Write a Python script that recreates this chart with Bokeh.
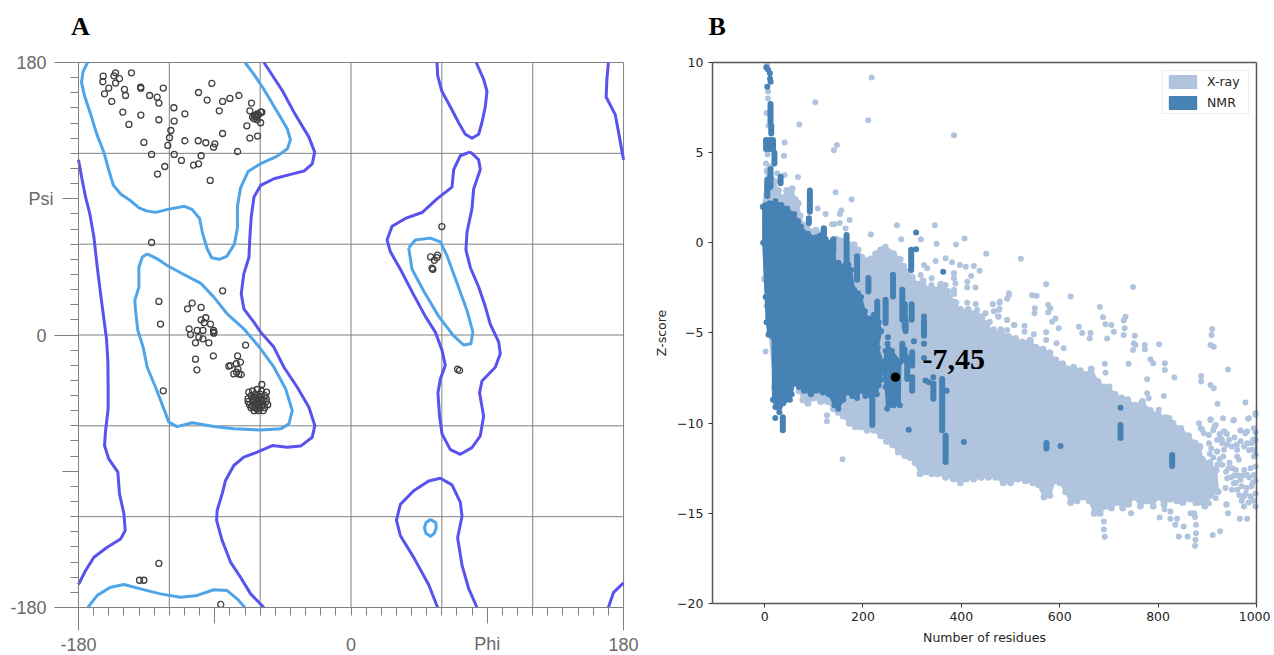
from bokeh.embed import file_html
from bokeh.resources import INLINE
from bokeh.layouts import row
from bokeh.models import (ColumnDataSource, FixedTicker, Label, Legend, LegendItem,
                          LinearAxis, Range1d)
from bokeh.plotting import figure

# ---------- Panel A : Ramachandran plot (phi, psi in degrees) ----------
core_beta = [(-174,180),(-177,174),(-178,167),(-176,158),(-172,146),(-168,133),(-163,120),(-160,109),(-157,99),(-152,93),(-146,89),(-140,84),(-135,82),(-129,81),(-121,83),(-110,85),(-105,83),(-100,77),(-98,67),(-95,57),(-92,51),(-87,50),(-82,52),(-77,60),(-75,71),(-75,85),(-73,97),(-68,108),(-60,113),(-49,118),(-42,123),(-40,129),(-42,136),(-49,148),(-58,163),(-64,172),(-70,180)]
core_alpha = [(-134.6,53.6),(-128,50.3),(-121.4,45.9),(-110.4,40),(-99.4,34.3),(-90.6,25),(-81.8,14),(-70.8,4.1),(-59.7,-9.1),(-50.9,-21.3),(-43.2,-35.6),(-38.8,-49.9),(-41,-58.7),(-46.5,-62),(-59.7,-62.7),(-77.4,-62),(-90.6,-60.5),(-104.9,-58),(-114.8,-60.5),(-120.3,-57.6),(-123.6,-48.8),(-129.1,-34.5),(-134.6,-21.3),(-137.3,-8),(-140.8,3),(-142.3,16.2),(-142.8,22.8),(-140.1,31.6),(-140.1,44.8),(-137.9,51.4),(-134.6,53.6)]
core_bottom = [(-173.8,-180),(-167.6,-172),(-158.8,-166.6),(-150,-164.8),(-139,-167.7),(-125.8,-171),(-112.6,-173.2),(-101.6,-172),(-90.6,-168.3),(-81.8,-168.8),(-75.2,-174.3),(-70.1,-180)]
core_left = [(38.1,57.6),(42.5,62.8),(52.4,64),(59,61.5),(63.4,52.4),(70,34.3),(76.6,16.2),(80.5,1.9),(79.2,-5.8),(74.4,-6.6),(67.8,-0.6),(57.9,12.3),(48,29.1),(40.3,43.4),(38.1,57.6)]
core_ring = [(52.4,-121.7),(56,-124),(56.3,-127.4),(55,-131),(52.4,-133),(49.5,-131),(48.5,-127.4),(49.5,-124),(52.4,-121.7)]

allowed_main = [(-57.5,180),(-45.4,161.5),(-37.7,147.2),(-27.8,130.7),(-24,120.8),(-25.6,113.1),(-31.1,108.3),(-39.9,106.1),(-50.9,103.2),(-59.7,98.8),(-64.1,91.1),(-65.9,77.9),(-66.8,64.7),(-67.4,51.4),(-70.8,40.4),(-72.5,27.2),(-70.8,17.3),(-64.2,8.5),(-59.7,1.9),(-51,-8),(-44.3,-21.3),(-35.5,-34.5),(-27.8,-47.7),(-23.9,-59.8),(-25.6,-67.5),(-33.3,-73.4),(-42.1,-74.1),(-52,-73),(-62,-77.4),(-70.8,-80.7),(-77.4,-86.2),(-82.9,-96.1),(-85.1,-104.9),(-88.4,-115.9),(-88.8,-122.5),(-85.1,-135.8),(-79.6,-150),(-73,-160),(-66.3,-171),(-57.5,-180)]
allowed_left = [(-180,115.7),(-177.5,102),(-175.3,91),(-172.5,80),(-169.8,64.7),(-167.6,44.8),(-165.4,27.2),(-161.5,-2.5),(-160.6,-16.9),(-160.4,-34.5),(-160.4,-48.8),(-162.1,-63.1),(-162.8,-73),(-160,-81.8),(-154,-90.6),(-152.9,-104.9),(-150,-118.1),(-149.1,-129.2),(-152.2,-134.7),(-161,-140.2),(-169.8,-146.8),(-175.3,-155.6),(-180,-164.8)]
allowed_top = [(56.8,180),(57.2,171.5),(60,161),(65.6,150.8),(71,140.4),(75.5,132.6),(79.9,130),(84.3,132.6),(86.5,140.4),(88.7,150.8),(89.8,161),(87.6,168.9),(82.7,180)]
allowed_mid = [(78.8,121),(84.3,115.8),(85.4,109.3),(81,96.4),(79.9,83.5),(76.6,67.9),(75.9,56.3),(78.8,44.6),(84.3,31.7),(88.7,18.8),(92,7.1),(97.5,-4.5),(98.6,-12.3),(95.3,-21.3),(86.5,-30.4),(84.9,-38.2),(87.6,-53.7),(85.4,-66.6),(79.9,-74.4),(72.2,-78.8),(65.6,-75.7),(60.1,-65.3),(58.5,-53.7),(57.4,-38.2),(59,-29.1),(62.3,-20),(60,-9.7),(55.7,1.9),(49.1,12.3),(41.4,26.5),(32.6,43.4),(26,55),(23.8,62.8),(27.1,71.8),(35.9,77),(46.9,80.9),(56.8,89.9),(66.7,97.7),(67.8,109.3),(72.2,118.4),(78.8,121)]
allowed_low = [(57.2,-180),(51.3,-165),(41.4,-146.9),(32.6,-132.6),(30,-122.3),(32.6,-111.9),(41.4,-102.9),(51.3,-96.4),(59,-94.6),(66.7,-99),(72.2,-110.6),(73.3,-119.7),(70.4,-133.9),(73.3,-152),(77.7,-167.5),(83.2,-180)]
allowed_right_top = [(170,180),(169,168.9),(168.5,157.2),(174.5,145.6),(176.7,134),(180,115.8)]
allowed_right_low = [(170,-180),(173.4,-170),(180,-163.7)]

residues_ab = [(-163.7,171),(-163.9,167.3),(-155.5,173.2),(-156.6,171.2),(-155.5,166.4),(-152.9,169.3),(-145,173.2),(-160,163.1),(-162.8,159.3),(-158,154.3),(-149.6,162.2),(-148.9,158.2),(-139,163.7),(-138.8,163),(-133,158.2),(-128,157.1),(-126.9,153.2),(-124,163.1),(-150.7,147.2),(-138.8,145.3),(-146.7,139.1),(-126.9,142.2),(-117,150.1),(-109.7,146.1),(-116.8,141.3),(-119,135.1),(-119.9,130.3),(-121,125.2),(-136.8,127.2),(-131.7,119.3),(-116.8,119.3),(-112,115.3),(-123,111.3),(-127.8,106.3),(-109.7,128.3),(-100.9,128.3),(-95.9,127),(-89.9,126.3),(-90.8,124.1),(-99,118.4),(-100.7,113.1),(-104,112.2),(-93,102.1),(-100.7,160.2),(-95,155.2),(-91.9,166.2),(-84.8,154.3),(-80,156.3),(-74,158.2),(-87,148.1),(-84.8,133.1),(-74.9,121.2),(-68.8,138.2),(-66.8,130.1),(-61.7,131.4),(-65.7,153.2),(-66.8,148.1),(-59.7,147.2),(-58.9,147.2),(-63.7,145),(-62.4,143.9),(-64.1,142.8),(-61.9,142.2),(-59.7,140.2),(-63,144.5),(-61,145.5),(-65,144),(-62,146)]
residues_mid = [(-131.7,61.1),(-84.8,29.2),(-126.9,22.2),(-125.8,7.2),(-104.9,21.1),(-108,17.3),(-99,18.2),(-99,10),(-95.9,11.4),(-97,8.1),(-92.8,7.2),(-106.9,4.1),(-90.8,3),(-90.6,1.2),(-97.8,3),(-106,0.3),(-101.6,3),(-100.5,-1.4),(-97.8,-2.5),(-102.7,-5.2),(-93.9,-5.2),(-90.6,1.9),(-69.6,-6.7),(-102.7,-16),(-90.9,-13.8),(-101.8,-23),(-74.9,-13.8),(-73,-17.9),(-75.8,-19),(-80.7,-20.6),(-79.6,-20.2),(-74.7,-22.4),(-77.4,-25.7),(-74.1,-25.7),(-72.5,-26.1),(-75.6,-24.6),(-124,-36.9),(-58.9,-32.7),(-55.8,-37.8),(-67.5,-37.8)]
residues_helix = [(-62,-36),(-65,-37),(-59,-37),(-66,-40),(-63,-39),(-60,-39),(-57,-40),(-68,-42),(-65,-42),(-62,-42),(-59,-42),(-56,-42),(-68,-44),(-65,-44),(-62,-44),(-59,-44),(-56,-44),(-67,-46),(-64,-46),(-61,-46),(-58,-46),(-55,-46),(-66,-48),(-63,-48),(-60,-48),(-57,-48),(-64,-50),(-61,-50),(-58,-50),(-63,-41),(-60,-45),(-65,-47),(-62,-49),(-64,-43),(-61,-43),(-58,-43),(-63,-45),(-59,-47),(-61,-41),(-64,-41)]
residues_other = [(-126.9,-150.9),(-139.7,-162),(-136.8,-162),(-86,-178),(60,71.6),(52.6,51.6),(57.2,52.7),(55,49.3),(56.8,51.1),(53.5,44.1),(54.1,43.4),(70.4,-22.6),(71.7,-23.4)]

psi_labels = {180: "180", 0: "0", -180: "-180"}
phi_labels = {-180: "-180", 0: "0", 180: "180"}
grid_major = [-120, -60, 0, 60, 120, 180]

# ---------- Panel B : Z-score vs number of residues ----------
xray_top = [(-3,2.0),(5,4.0),(12,4.2),(20,3.4),(28,2.9),(36,2.5),(45,2.9),(56,3.0),(62,2.4),(68,2.2),(72,1.5),(78,1.0),(86,0.9),(96,0.6),(104,0.7),(112,0.5),(122,0.2),(132,0.0),(146,0.2),(155,0.1),(164,0.0),(172,-0.1),(182,-0.1),(190,-0.4),(198,-0.8),(208,-1.0),(216,-0.9),(226,-0.6),(236,-0.4),(244,-0.3),(252,-0.5),(262,-0.6),(272,-0.9),(282,-1.3),(290,-1.6),(300,-1.9),(312,-2.3),(322,-2.1),(334,-2.6),(346,-2.6),(358,-2.3),(372,-2.7),(386,-3.3),(398,-3.7),(414,-3.7),(430,-3.9),(442,-4.1),(452,-4.5),(466,-5),(480,-4.9),(496,-5.2),(510,-5.3),(524,-5.5),(540,-5.4),(552,-5.8),(566,-5.9),(580,-6.1),(592,-6.5),(606,-6.7),(616,-7.0),(628,-6.9),(642,-7.1),(654,-7.3),(664,-7.0),(678,-7.7),(690,-8),(700,-8.0),(712,-8.4),(726,-8.6),(738,-8.7),(752,-9.0),(768,-8.8),(784,-9.3),(800,-9.5),(815,-9.7),(830,-10),(846,-10.3),(862,-10.7),(875,-11.1),(885,-11.3),(890,-12),(905,-12.2),(918,-12.6)]
xray_bottom = [(922,-13.8),(908,-14),(895,-14.6),(880,-14.4),(866,-14.2),(850,-14.4),(838,-14.3),(825,-14.2),(812,-14.5),(800,-14.1),(790,-14.6),(778,-14.3),(764,-14.6),(752,-14.1),(740,-14.5),(728,-14.7),(717,-14.4),(705,-14.7),(695,-14.6),(682,-15),(670,-15),(660,-14.3),(648,-14.1),(635,-14.3),(622,-14.4),(612,-13.8),(600,-13.3),(590,-13.2),(580,-14),(568,-14.1),(556,-13.4),(545,-13.3),(530,-13.2),(515,-13.1),(500,-13.3),(485,-13.3),(470,-13),(455,-13),(440,-13),(425,-13.1),(410,-13.1),(398,-13.3),(384,-13.1),(368,-13),(352,-12.8),(340,-12.8),(328,-12.7),(316,-12.8),(306,-12.2),(296,-11.9),(285,-11.8),(272,-11.6),(260,-11.2),(248,-11),(236,-10.7),(222,-10.4),(208,-10.4),(196,-10.2),(184,-10.2),(172,-10),(160,-9.6),(150,-9.4),(140,-9.2),(128,-8.8),(114,-8.8),(100,-8.6),(88,-8.9),(78,-8.7),(70,-8.2),(60,-7.8),(40,-8),(20,-8),(10,-5),(0,-2)]
xray_points = [(217.5,9.17),(103,7.8),(70.5,6.57),(210.7,6.8),(40.6,5.57),(147,5.42),(141,5.13),(39.3,4.83),(67.8,3.65),(40.6,3.76),(25.7,3.86),(144.3,2.8),(176.8,2.4),(155.8,1.8),(153,1.6),(108,1.9),(124,1.6),(172.8,1.27),(137.5,1.03),(142.3,1.05),(153,1.1),(164.6,0.8),(269,0.98),(346,0.98),(277.8,0.2),(317.7,0.2),(216,0.46),(406.5,0.24),(349.6,-0.05),(389,-0.09),(385,5.97),(450.5,-0.6),(521,-0.88),(381,-1.07),(397,-1.23),(409,-1.33),(425.4,-1.29),(437,-1.55),(420,-1.84),(384.8,-1.69),(384.8,-1.97),(412,-2.16),(412,-2.47),(428.8,-2.47),(388,-2.25),(385,-2.71),(572.4,-2.3),(749,-2.45),(496.6,-2.9),(493,-3.1),(544,-2.9),(553,-2.93),(622,-2.97),(477.6,-3.32),(464,-3.41),(477.6,-3.67),(549.4,-3.63),(548.7,-3.91),(576.5,-3.45),(581,-3.63),(576.5,-3.87),(681.5,-3.56),(688,-4.13),(733.7,-4.1),(730,-4.3),(449,-3.91),(476,-4.1),(456,-4.43),(493,-4.28),(506.7,-4.56),(528.4,-4.6),(528.4,-4.93),(547.4,-5.07),(591.4,-4.19),(584.6,-4.37),(598,-4.74),(572.4,-4.96),(572.4,-5.39),(593.4,-5.57),(638.8,-4.65),(645.6,-5),(662.5,-5),(661,-5.3),(693,-4.52),(705,-4.56),(710,-4.93),(696.4,-5.3),(732,-4.74),(730,-5.11),(752.7,-5.15),(773,-5.67),(802,-5.63),(750.6,-5.57),(910,-4.78),(908.5,-5.11),(906.5,-5.67),(913,-5.76),(608,-5.85),(740,-6.7),(749,-5.94),(754,-5.66),(773,-5.9),(784.5,-6.46),(790,-6.68),(813.6,-6.68),(813.6,-7.05),(691.7,-6.7),(693,-7.21),(777.7,-7.56),(833,-7.47),(887.5,-7.38),(887.5,-7.69),(906.5,-7.88),(913,-8.06),(942,-7.03),(920.7,-8.93),(977.6,-8.86),(811.6,-8.49),(777.7,-8.34),(781,-8.62),(801.4,-9.26),(823,-9.72),(805,-9.82),(906.5,-9.82),(883,-10),(889.5,-10.37),(932,-9.73),(954,-9.82),(983,-9.76),(998,-9.45),(914.6,-10.2),(935,-10.46),(967.4,-10.41),(920,-10.93),(930,-10.93),(940,-11.2),(920,-11.57),(960.6,-11.48),(977.6,-10.56),(994.5,-10.28),(998,-10.93),(998,-11.76),(745,-15),(803,-15.23),(813,-14.77),(825,-14.9),(825,-15.3),(838.7,-15.3),(835,-15.64),(842,-16.28),(852,-15.73),(860,-16.28),(866,-15),(875,-15.2),(877,-15.64),(877,-16.1),(876,-16.47),(875,-16.8),(911,-16.2),(926,-16),(966,-15.3),(981,-15.3),(939,-14.5),(942,-15),(689.7,-15.45),(689.7,-15.9),(691.7,-16.3),(676,-14.9),(686,-14.4),(2,-6.03),(158.5,-12),(126.7,-9.56),(126.7,-9.9),(3.4,-3.5),(2.7,4.4),(5.4,9.85),(7,8.4),(7,8),(8,6.5),(4,7.2),(6,4.9),(6,5.1)]
xray_upper_fringe = [(246,-0.21),(236,-0.58),(222,-0.86),(263,-0.67),(276.5,-0.92),(215.5,-1.04),(324,-1.23),(330.7,-1.41),(347.7,-1.01),(368,-0.86),(317,-1.78),(339.5,-1.97),(300,-2.06),(303.6,-2.34),(385,-1.69),(368,-2.34),(363,-2.6),(364.6,-2.89),(385,-2.6),(385,-2.84),(339,-2.34),(330.7,-2.71),(340.9,-2.98),(412,-3.32),(389.7,-3.32),(429,-3.39),(432,-3.72),(357.8,-3.5),(374.8,-3.63),(398.5,-3.8),(418.8,-3.9),(463.5,-3.39),(478.4,-3.26),(496.7,-2.8),(476.4,-3.72),(466,-3.8),(449.3,-3.91),(458,-4.37),(474.4,-4.09),(493,-4.28),(508,-4.55),(466,-4.79),(480,-4.79),(493,-4.83)]
xray_right_tail = [(886.4,-10.28),(906.7,-9.78),(917,-10.1),(952.8,-9.85),(984.6,-9.73),(998,-9.54),(893,-10.56),(903.3,-10.65),(933.8,-10.46),(967.7,-10.41),(981,-10.46),(927,-10.83),(944,-10.93),(967.7,-11),(981,-11.11),(903.3,-11.11),(930.4,-11.11),(933.8,-11.48),(920.2,-11.57),(932.4,-11.85),(991.4,-11.48),(994.8,-11.85),(964.3,-12.03),(960.9,-11.85),(950.7,-12.5),(920.2,-12.31),(930.4,-12.31),(886.4,-12.22),(940.6,-13.05),(954,-13.33),(967.7,-13.14),(981,-12.87),(994.8,-12.87),(937,-13.6),(961,-13.7),(974.5,-14.07),(988,-14.07),(998,-14.62),(974.5,-14.62),(939,-14.53),(917,-14.16),(903.3,-14.44),(876,-14.44),(873,-15),(975,-12.6),(988,-12.5),(998,-12.4),(998,-13.2),(990,-13.5),(980,-13.6),(970,-13.5),(948,-13),(945,-12.2),(955,-12.9),(905,-11.7),(912,-11.9),(925,-12),(938,-12.7),(943,-12.5),(958,-12.6),(963,-12.9),(972,-12.9),(985,-13),(992,-13.3),(978,-13.9),(965,-14),(958,-13.3),(950,-13.7),(984,-14.4),(994,-14.3),(998,-13.9),(970,-14.3),(990,-11.1),(998,-10.5),(975,-11.3),(985,-11.5),(993,-10.9),(955,-10.8),(950,-11.3),(960,-11.2),(912,-10.4),(925,-10.6),(940,-10.6),(908,-11.4)]

nmr_outline = [(-3,2),(2,2.1),(10,2.2),(22,2.3),(34,2.1),(46,1.9),(60,1.6),(68,1.2),(74,0.9),(88,0.5),(104,0.3),(112,0.4),(120,0.8),(124,0.2),(130,0),(140,0.2),(144,-1.1),(150,-1.1),(160,-1.3),(170,-1.2),(176,-1.5),(182,-2.6),(190,-2.8),(196,-3),(204,-3.8),(210,-4.2),(222,-4.0),(232,-4.4),(237,-4.9),(230,-5.8),(240,-6.6),(236,-7.6),(232,-7.9),(228,-8.4),(218,-8.55),(205,-8.5),(195,-8.2),(188,-8.6),(178,-8.5),(168,-8.3),(160,-8.7),(150,-9.2),(142,-9.0),(130,-8.4),(118,-8.3),(105,-8.2),(94,-8.4),(80,-8.2),(70,-8),(60,-7.8),(55,-8.4),(44,-8.7),(38,-8.9),(30,-9.4),(22,-9.1),(17,-8.7),(16,-5.2),(8,-5.1),(4,-4.4),(2,-3),(-3,0)]
nmr_blob = [(250,-5.6),(259,-6),(276,-6.6),(275,-9),(262,-9),(249,-9.2),(246,-8),(240,-7.1),(246,-6)]
nmr_streaks = [(12,7.7,6.7),(13.5,6.5,6.07),(3,5.7,5.2),(10,5.7,5.2),(17,5.7,5.2),(20,5,4.4),(12,4.1,3.1),(5.4,3.5,2.6),(32.5,3.67,3.3),(92,2.9,1.73),(90,1.37,1.1),(120.6,0.8,0.17),(139.6,0.17,-0.57),(166.7,0.44,-1.1),(188,-0.75,-2.05),(211,-1.95,-2.7),(261,-1.77,-2.97),(298,-0.39,-1.5),(280,-2.6,-4.26),(246,-3.15,-4.45),(229,-3.25,-4.26),(285,-3.4,-4.7),(299,-3.4,-4.26),(324,-4.3,-5.15),(286.6,-4.3,-4.9),(280,-5.6,-6.35),(284.5,-5.9,-6.5),(290,-6.35,-7.55),(300,-6.07,-6.8),(300,-7.45,-8.2),(343,-7.8,-8.65),(361,-7.55,-10.4),(368,-10.7,-12.15),(219,-8.65,-10.1),(37,-9.67,-10.4),(573,-11.1,-11.4),(723.5,-10.1,-10.83),(828.5,-11.76,-12.37)]
nmr_edge = (999, -10.4, -11.8)
nmr_points = [(3.4,9.74),(7,9.6),(10.8,9.4),(12.2,8.93),(11,9.1),(5.4,8.65),(308,0.57),(308,-0.35),(363,-1.6),(324,-4.08),(303.5,-5.46),(324,-5.6),(324,-6.38),(327,-7.64),(334,-7.73),(343,-7.45),(370,-8.2),(293,-10.37),(405,-11.05),(21.7,-9.72),(51.5,-8.7),(250.7,-5.24),(601.6,-11.26),(723.5,-9.15)]
query_point = (266, -7.45)

x_ticks_b = [0, 200, 400, 600, 800, 1000]
y_ticks_b = [-20, -15, -10, -5, 0, 5, 10]

LIGHT = "#4FA5E8"
DARK = "#5A52EE"
GRID = "#808080"
XRAY = "#B0C4DE"
NMR = "#4682B4"
SPINE = "#555555"
INK = "#262626"
MINUS = "\u2212"


def xs(pairs):
    return [p[0] for p in pairs]


def ys(pairs):
    return [p[1] for p in pairs]


# ---------- Figure A ----------
# Both frames fill their figures, so that long ticks and outer labels are drawn by axes set inside them.
a = figure(width=650, height=654, output_backend="svg", toolbar_location=None,
           x_range=Range1d(-231.5, 197.8), y_range=Range1d(-211.05, 220.96),
           x_axis_type=None, y_axis_type=None,
           min_border_left=0, min_border_right=0, min_border_top=0, min_border_bottom=0,
           outline_line_color=None)
a.grid.visible = False
a.segment(grid_major, [-180] * 6, grid_major, [180] * 6, line_color=GRID, line_width=1)
a.segment([-180] * 6, grid_major, [180] * 6, grid_major, line_color=GRID, line_width=1)


def a_axis(side, ticks, out, labels, standoff):
    overrides = {t: labels.get(t, "") for t in ticks}
    axis = LinearAxis(fixed_location=-180, bounds=(-180, 180), ticker=FixedTicker(ticks=ticks),
                      major_label_overrides=overrides, major_tick_in=0, major_tick_out=out,
                      major_tick_line_color=GRID, axis_line_color=GRID,
                      minor_tick_line_color=None, major_label_standoff=standoff,
                      major_label_text_font="Liberation Sans", major_label_text_font_size="18px",
                      major_label_text_color="#6a6a6a")
    a.add_layout(axis, side)


tens = [t for t in range(-170, 180, 10) if t not in (-90, 90, 0)]
a_axis("left", tens, 8, {}, 4)
a_axis("left", [90, -90], 16, {90: "Psi"}, 9)
a_axis("left", [180, 0, -180], 24, psi_labels, 8)
a_axis("below", tens, 8, {}, 4)
a_axis("below", [90, -90], 16, {90: "Phi"}, 11)
a_axis("below", [180, -180], 23, phi_labels, 8)
a_axis("below", [0], 8, {0: "0"}, 23)

for c in [allowed_main, allowed_left, allowed_top, allowed_mid, allowed_low, allowed_right_top, allowed_right_low]:
    a.line(xs(c), ys(c), line_color=DARK, line_width=3, line_join="round")
for c in [core_beta, core_alpha, core_bottom, core_left, core_ring]:
    a.line(xs(c), ys(c), line_color=LIGHT, line_width=3, line_join="round")
for c in [residues_ab, residues_mid, residues_helix, residues_other]:
    a.scatter(xs(c), ys(c), size=6, marker="circle", fill_color=None, line_color="#404040", line_width=1.3)
a.add_layout(Label(x=-185, y=194, text="A", text_font="Liberation Serif", text_font_style="bold",
                   text_font_size="26px", text_color="black"))

# ---------- Figure B ----------
b = figure(width=620, height=654, output_backend="svg", toolbar_location=None,
           x_range=Range1d(-232, 1028.5), y_range=Range1d(-22.83, 13.44),
           x_axis_type=None, y_axis_type=None,
           min_border_left=0, min_border_right=0, min_border_top=0, min_border_bottom=0,
           outline_line_color=None)
b.grid.visible = False

xray_outline = xray_top + xray_bottom
r_xray = b.patch(xs(xray_outline), ys(xray_outline), fill_color=XRAY, line_color=XRAY, line_width=2, line_join="round")
b.scatter(xs(xray_outline), ys(xray_outline), size=7, marker="circle", fill_color=XRAY, line_color=None)
for c in [xray_points, xray_upper_fringe, xray_right_tail]:
    b.scatter(xs(c), ys(c), size=6, marker="circle", fill_color=XRAY, line_color=None)
r_nmr = b.patch(xs(nmr_outline), ys(nmr_outline), fill_color=NMR, line_color=NMR, line_width=2, line_join="round")
b.patch(xs(nmr_blob), ys(nmr_blob), fill_color=NMR, line_color=NMR, line_width=2, line_join="round")
b.scatter(xs(nmr_outline) + xs(nmr_blob), ys(nmr_outline) + ys(nmr_blob), size=6, marker="circle", fill_color=NMR, line_color=None)
src = ColumnDataSource(dict(x=[s[0] for s in nmr_streaks], hi=[s[1] for s in nmr_streaks], lo=[s[2] for s in nmr_streaks]))
b.segment("x", "hi", "x", "lo", source=src, line_color=NMR, line_width=6, line_cap="round")
b.segment([nmr_edge[0]], [nmr_edge[1]], [nmr_edge[0]], [nmr_edge[2]], line_color=NMR, line_width=2.5, line_alpha=0.7)
b.scatter(xs(nmr_points), ys(nmr_points), size=6, marker="circle", fill_color=NMR, line_color=None)
b.scatter([query_point[0]], [query_point[1]], size=9.5, marker="circle", fill_color="black", line_color=None)
b.segment([-106, 1000], [10, -20], [1000, 1000], [10, 10], line_color=SPINE, line_width=1.5)

x_axis_b = LinearAxis(fixed_location=-20, bounds=(-106, 1000), ticker=FixedTicker(ticks=x_ticks_b),
                      axis_label="Number of residues")
y_axis_b = LinearAxis(fixed_location=-106, bounds=(-20, 10), ticker=FixedTicker(ticks=y_ticks_b),
                      axis_label="Z-score",
                      major_label_overrides={t: (MINUS + str(-t) if t < 0 else str(t)) for t in y_ticks_b})
for ax in (x_axis_b, y_axis_b):
    ax.axis_line_color = SPINE
    ax.axis_line_width = 1.5
    ax.major_tick_line_color = "#333333"
    ax.major_tick_in = 0
    ax.major_tick_out = 4
    ax.minor_tick_line_color = None
    ax.major_label_text_font = "DejaVu Sans"
    ax.major_label_text_font_size = "12.5px"
    ax.major_label_text_color = INK
    ax.major_label_standoff = 5
    ax.axis_label_text_font = "DejaVu Sans"
    ax.axis_label_text_font_size = "12.5px"
    ax.axis_label_text_font_style = "normal"
    ax.axis_label_text_color = INK
    ax.axis_label_standoff = 5
b.add_layout(x_axis_b, "below")
b.add_layout(y_axis_b, "left")

b.add_layout(Label(x=321, y=-7.0, text="-7,45", text_font="Liberation Serif", text_font_style="bold",
                   text_font_size="30px", text_color="black"))
b.add_layout(Label(x=-114, y=11.17, text="B", text_font="Liberation Serif", text_font_style="bold",
                   text_font_size="26px", text_color="black"))
legend = Legend(items=[LegendItem(label="X-ray", renderers=[r_xray]), LegendItem(label="NMR", renderers=[r_nmr])],
                location=(512, 540), margin=0, padding=3, spacing=6, glyph_width=33, glyph_height=15,
                label_text_font="DejaVu Sans", label_text_font_size="12.5px", label_text_color=INK,
                border_line_color="#dddddd", border_line_width=1.5, background_fill_alpha=0.9,
                label_standoff=8, label_width=38)
b.add_layout(legend)

layout = row(a, b)
open("out.html", "w").write(file_html(layout, INLINE))
